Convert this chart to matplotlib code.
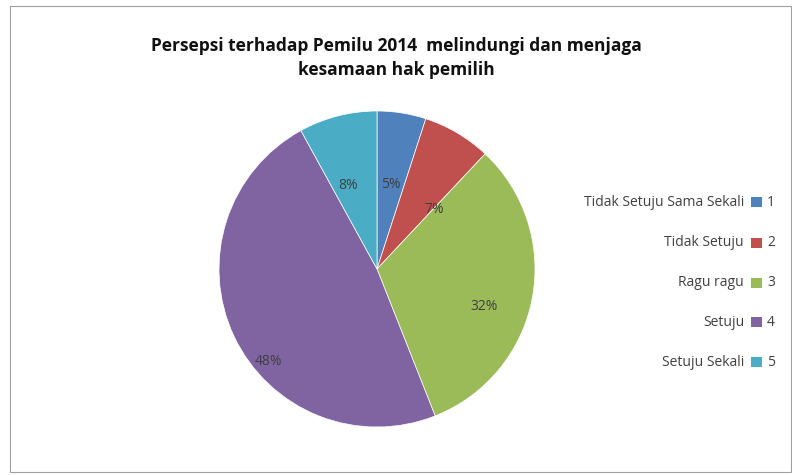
import numpy as np
from matplotlib import pyplot as plt
from matplotlib.patches import Rectangle

title = "Persepsi terhadap Pemilu 2014  melindungi dan menjaga\nkesamaan hak pemilih"
categories = ["1", "2", "3", "4", "5"]
category_names = ["Tidak Setuju Sama Sekali", "Tidak Setuju", "Ragu ragu", "Setuju", "Setuju Sekali"]
percentages = [5, 7, 32, 48, 8]
colors = ["#4F81BD", "#C0504D", "#9BBB59", "#8064A2", "#4BACC6"]

# label placement (radius, angle in degrees), like excel's best fit
label_pos = [(0.54, 80.5), (0.52, 46), (0.72, -19.5), (0.90, -139.6), (0.56, 109)]

plt.rcParams['font.family'] = ['Open Sans', 'DejaVu Sans']

fig = plt.figure(figsize=(7.92, 4.75), dpi=100)
fig.patches.append(Rectangle((10 / 792, 3 / 475), 781 / 792, 466 / 475, transform=fig.transFigure,
                             fill=False, edgecolor="#a0a0a0", linewidth=0.8))

fig.text(0.5, 1 - 58 / 475, title, ha="center", va="center", fontsize=12.5, fontweight="bold",
         color="#111111", linespacing=1.45)

ax = fig.add_axes([219 / 792, 48 / 475, 316 / 792, 316 / 475])
wedges, _ = ax.pie(percentages, colors=colors, startangle=90, counterclock=False, radius=1,
                   wedgeprops=dict(linewidth=0.5, edgecolor="white"))
for (r, ang), p in zip(label_pos, percentages):
    a = np.deg2rad(ang)
    ax.text(r * np.cos(a), r * np.sin(a), f"{p}%", ha="center", va="center", fontsize=10, color="#404040")
ax.set_xlim(-1, 1)
ax.set_ylim(-1, 1)
ax.set_aspect("equal")
ax.axis("off")

# legend, excel style: name, square, number
row_y = [202, 243, 283, 322, 362]
for name, cat, col, y in zip(category_names, categories, colors, row_y):
    fy = 1 - y / 475
    fig.text(744 / 792, fy, name, ha="right", va="center", fontsize=10, color="#404040")
    fig.patches.append(Rectangle((751 / 792, fy - 5 / 475), 11 / 792, 10 / 475, transform=fig.transFigure,
                                 facecolor=col, edgecolor="none"))
    fig.text(767 / 792, fy, cat, ha="left", va="center", fontsize=10, color="#404040")

plt.savefig("out.png", dpi=100)
